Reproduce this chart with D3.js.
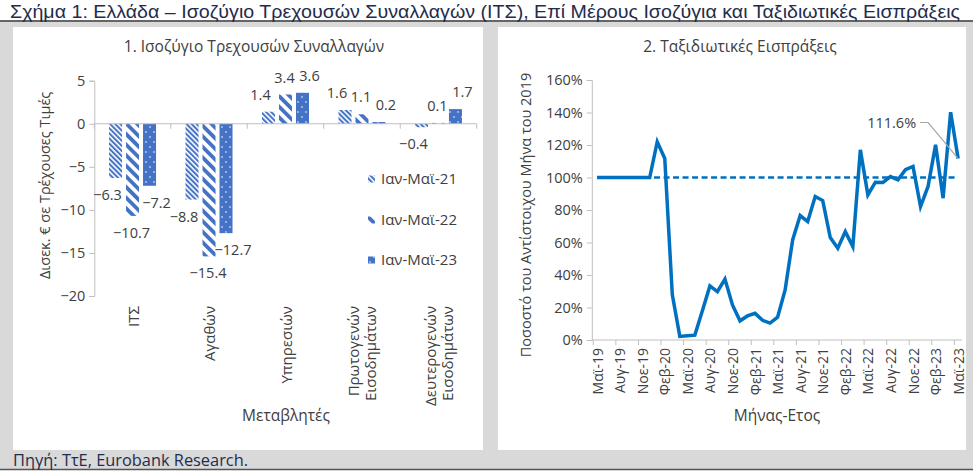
<!DOCTYPE html>
<html><head><meta charset="utf-8">
<script src="https://cdn.jsdelivr.net/npm/d3@7"></script>
<style>
body{margin:0;padding:0;background:#fff;}
svg text{font-family:"Open Sans","Noto Sans",sans-serif;}
</style></head>
<body><svg id="c" width="973" height="471"></svg>
<script>
// ---------- DATA ----------
const categories = ["ΙΤΣ","Αγαθών","Υπηρεσιών","Πρωτογενών Εισοδημάτων","Δευτερογενών Εισοδημάτων"];
const seriesNames = ["Ιαν-Μαϊ-21","Ιαν-Μαϊ-22","Ιαν-Μαϊ-23"];
const values21 = [-6.3,-8.8,1.4,1.6,-0.4];
const values22 = [-10.7,-15.4,3.4,1.1,0.1];
const values23 = [-7.2,-12.7,3.6,0.2,1.7];
const leftTicks = [5,0,-5,-10,-15,-20];

const months = ["Μαϊ-19","Ιουν-19","Ιουλ-19","Αυγ-19","Σεπ-19","Οκτ-19","Νοε-19","Δεκ-19",
"Ιαν-20","Φεβ-20","Μαρ-20","Απρ-20","Μαϊ-20","Ιουν-20","Ιουλ-20","Αυγ-20","Σεπ-20","Οκτ-20","Νοε-20","Δεκ-20",
"Ιαν-21","Φεβ-21","Μαρ-21","Απρ-21","Μαϊ-21","Ιουν-21","Ιουλ-21","Αυγ-21","Σεπ-21","Οκτ-21","Νοε-21","Δεκ-21",
"Ιαν-22","Φεβ-22","Μαρ-22","Απρ-22","Μαϊ-22","Ιουν-22","Ιουλ-22","Αυγ-22","Σεπ-22","Οκτ-22","Νοε-22","Δεκ-22",
"Ιαν-23","Φεβ-23","Μαρ-23","Απρ-23","Μαϊ-23"];
const receipts = [100,100,100,100,100,100,100,100,
122,111.7,28,2.2,2.6,3.0,18,33.3,29.8,37.5,21.6,11.8,
14.8,16.4,12.1,10.4,14.0,30.8,61.6,76.6,72.9,88.3,85.8,63,
56.5,66.7,57.5,117,89.3,97.1,97,100.6,98.6,104.8,106.8,82.1,
94.5,120.1,87.3,140.2,111.6];
const baseline = 100;
const rightTicks = [0,20,40,60,80,100,120,140,160];
const monthTickLabels = ["Μαϊ-19","Αυγ-19","Νοε-19","Φεβ-20","Μαϊ-20","Αυγ-20","Νοε-20","Φεβ-21","Μαϊ-21","Αυγ-21","Νοε-21","Φεβ-22","Μαϊ-22","Αυγ-22","Νοε-22","Φεβ-23","Μαϊ-23"];
const lastLabel = "111.6%";

// ---------- STYLE ----------
const BLUE = "#4472C4", LINE = "#0070C0", AXIS = "#BFBFBF", TXT = "#404040", NAVY = "#1F2D4D";
const FONT = '"Open Sans","Noto Sans",sans-serif';
const svg = d3.select("#c");

// patterns
const defs = svg.append("defs");
const p1 = defs.append("pattern").attr("id","pat0").attr("patternUnits","userSpaceOnUse")
  .attr("width",3.6).attr("height",3.6).attr("patternTransform","rotate(-45)");
p1.append("rect").attr("width",3.6).attr("height",3.6).attr("fill","#fff");
p1.append("rect").attr("width",2).attr("height",3.6).attr("fill",BLUE);
const p2 = defs.append("pattern").attr("id","pat1").attr("patternUnits","userSpaceOnUse")
  .attr("width",7.5).attr("height",7.5).attr("patternTransform","rotate(-45)");
p2.append("rect").attr("width",7.5).attr("height",7.5).attr("fill","#fff");
p2.append("rect").attr("width",3.8).attr("height",7.5).attr("fill",BLUE);
const p3 = defs.append("pattern").attr("id","pat2").attr("patternUnits","userSpaceOnUse")
  .attr("width",8).attr("height",10);
p3.append("rect").attr("width",8).attr("height",10).attr("fill",BLUE);
p3.append("circle").attr("cx",2).attr("cy",2).attr("r",0.8).attr("fill","#fff");
p3.append("circle").attr("cx",6).attr("cy",7).attr("r",0.8).attr("fill","#fff");

// backgrounds
svg.append("rect").attr("x",0).attr("y",0).attr("width",973).attr("height",471).attr("fill","#fff");
svg.append("rect").attr("x",0).attr("y",22).attr("width",973).attr("height",447).attr("fill","#D9D9D9");
svg.append("line").attr("x1",0).attr("x2",973).attr("y1",21).attr("y2",21).attr("stroke","#333").attr("stroke-width",1.5);
svg.append("line").attr("x1",0).attr("x2",973).attr("y1",469.5).attr("y2",469.5).attr("stroke","#555").attr("stroke-width",1.5);
svg.append("rect").attr("x",13).attr("y",27).attr("width",470).attr("height",423).attr("fill","#fff");
svg.append("rect").attr("x",498).attr("y",27).attr("width",468).attr("height",423).attr("fill","#fff");

svg.append("text").attr("x",10).attr("y",17.5).attr("font-size",18.5).attr("fill",NAVY)
  .style("font-family",'"Liberation Sans Narrow","Liberation Sans",Arial,sans-serif')
  .attr("textLength",950).attr("lengthAdjust","spacingAndGlyphs")
  .text("Σχήμα 1: Ελλάδα – Ισοζύγιο Τρεχουσών Συναλλαγών (ΙΤΣ), Επί Μέρους Ισοζύγια και Ταξιδιωτικές Εισπράξεις");
svg.append("text").attr("x",13).attr("y",466).attr("font-size",16).attr("fill",NAVY)
  .attr("textLength",235).attr("lengthAdjust","spacingAndGlyphs")
  .text("Πηγή: ΤτΕ, Eurobank Research.");

// ---------- LEFT CHART ----------
const L = {x0:94.3, x1:476.7};
const yL = d3.scaleLinear().domain([-20,5]).range([296,80.7]);
const xL = d3.scaleBand().domain(categories).range([L.x0,L.x1]);
const xS = d3.scaleBand().domain(seriesNames).range([0,xL.bandwidth()]).paddingInner(0.235).paddingOuter(0.868);
const gl = svg.append("g");

gl.append("text").attr("x",254).attr("y",52).attr("text-anchor","middle").attr("font-size",15.5).attr("fill",TXT)
  .text("1. Ισοζύγιο Τρεχουσών Συναλλαγών");

// y axis
const yAxisL = d3.axisLeft(yL).tickValues(leftTicks).tickSize(5).tickPadding(4).tickFormat(d3.format("d"));
const gya = gl.append("g").attr("transform",`translate(${L.x0},0)`).call(yAxisL);
gya.select(".domain").attr("stroke",AXIS);
gya.selectAll(".tick line").attr("stroke",AXIS);
gya.selectAll(".tick text").attr("font-size",14.5).attr("fill",TXT).style("font-family",FONT);

gl.append("text").attr("transform",`translate(50,${(80.7+296)/2 - 3}) rotate(-90)`).attr("text-anchor","middle")
  .attr("font-size",14.5).attr("fill",TXT).text("Δισεκ. € σε Τρέχουσες Τιμές");

const seriesVals = [values21, values22, values23];
const labelDx = [-8, -1, 7];
seriesNames.forEach((s,si)=>{
  const g = gl.append("g");
  g.selectAll("rect").data(categories.map((c,ci)=>({c, v:seriesVals[si][ci]}))).join("rect")
    .attr("x",d=>xL(d.c)+xS(s)).attr("width",xS.bandwidth())
    .attr("y",d=>yL(Math.max(0,d.v))).attr("height",d=>Math.abs(yL(d.v)-yL(0)))
    .attr("fill",`url(#pat${si})`);
  g.selectAll("text").data(categories.map((c,ci)=>({c, v:seriesVals[si][ci]}))).join("text")
    .attr("x",d=>xL(d.c)+xS(s)+xS.bandwidth()/2+labelDx[si])
    .attr("y",d=> d.v>=0 ? yL(d.v)-17 : yL(d.v)+17)
    .attr("dy","0.35em").attr("text-anchor","middle").attr("font-size",14.5).attr("fill",TXT)
    .text(d=>d3.format(".1f")(d.v));
});

// zero axis
const gxa = gl.append("g").attr("transform",`translate(0,${yL(0)})`);
gxa.append("line").attr("x1",L.x0).attr("x2",L.x1).attr("stroke",AXIS);
gxa.selectAll("line.t").data(categories.concat(["end"])).join("line").attr("class","t")
  .attr("x1",(d,i)=>L.x0+i*xL.step()).attr("x2",(d,i)=>L.x0+i*xL.step()).attr("y1",0).attr("y2",5).attr("stroke",AXIS);

// category labels
categories.forEach(c=>{
  const lines = c.split(" ");
  const cx = xL(c)+xL.bandwidth()/2;
  lines.forEach((ln,li)=>{
    const x = cx + (li-(lines.length-1)/2)*17;
    gl.append("text").attr("transform",`translate(${x},306) rotate(-90)`).attr("text-anchor","end")
      .attr("dominant-baseline","central").attr("font-size",15).attr("fill",TXT).text(ln);
  });
});
gl.append("text").attr("x",286).attr("y",421).attr("text-anchor","middle").attr("font-size",15.5).attr("fill",TXT).text("Μεταβλητές");

// legend
const legY = [179,220,260];
seriesNames.forEach((s,si)=>{
  gl.append("rect").attr("x",368).attr("y",legY[si]-3.5).attr("width",7).attr("height",7).attr("fill",`url(#pat${si})`);
  gl.append("text").attr("x",381).attr("y",legY[si]).attr("dy","0.35em").attr("font-size",15).attr("fill",TXT).text(s);
});

// ---------- RIGHT CHART ----------
const R = {x0:593.3, x1:961.9};
const yR = d3.scaleLinear().domain([0,160]).range([340,80]);
const xR = d3.scaleBand().domain(months).range([R.x0,R.x1]);
const gr = svg.append("g");
gr.append("text").attr("x",740).attr("y",52).attr("text-anchor","middle").attr("font-size",15.5).attr("fill",TXT)
  .text("2. Ταξιδιωτικές Εισπράξεις");

const yAxisR = d3.axisLeft(yR).tickValues(rightTicks).tickSize(5).tickPadding(4).tickFormat(d=>d+"%");
const gyr = gr.append("g").attr("transform",`translate(${R.x0 - 1.5},0)`).call(yAxisR);
gyr.select(".domain").attr("stroke",AXIS);
gyr.selectAll(".tick line").attr("stroke",AXIS);
gyr.selectAll(".tick text").attr("font-size",14.5).attr("fill",TXT).style("font-family",FONT);

gr.append("text").attr("transform",`translate(531,${(80+340)/2 + 5}) rotate(-90)`).attr("text-anchor","middle")
  .attr("font-size",14.5).attr("fill",TXT).text("Ποσοστό του Αντίστοιχου Μήνα του 2019");

// x axis
const gxr = gr.append("g").attr("transform",`translate(0,${yR(0)})`);
gxr.append("line").attr("x1",R.x0-1.5).attr("x2",R.x1).attr("stroke",AXIS);
gxr.selectAll("line.t").data(monthTickLabels).join("line").attr("class","t")
  .attr("x1",d=>xR(d)).attr("x2",d=>xR(d)).attr("y1",0).attr("y2",5).attr("stroke",AXIS);
gxr.selectAll("text").data(monthTickLabels).join("text")
  .attr("transform",d=>`translate(${xR(d)+xR.bandwidth()/2},8) rotate(-90)`)
  .attr("text-anchor","end").attr("dominant-baseline","central").attr("font-size",14).attr("fill",TXT).text(d=>d);
gr.append("text").attr("x",777).attr("y",421).attr("text-anchor","middle").attr("font-size",15.5).attr("fill",TXT).text("Μήνας-Ετος");

// baseline dashed
gr.append("line").attr("x1",xR(months[0])+xR.bandwidth()/2).attr("x2",xR(months[months.length-1])+xR.bandwidth()/2)
  .attr("y1",yR(baseline)).attr("y2",yR(baseline)).attr("stroke",LINE).attr("stroke-width",2.5).attr("stroke-dasharray","6,3.5");

const line = d3.line().x((d,i)=>xR(months[i])+xR.bandwidth()/2).y(d=>yR(d));
gr.append("path").datum(receipts).attr("d",line).attr("fill","none").attr("stroke",LINE)
  .attr("stroke-width",3.5).attr("stroke-linejoin","miter");

// annotation of last value
const lx = xR(months[months.length-1])+xR.bandwidth()/2, ly = yR(receipts[receipts.length-1]);
gr.append("path").attr("d",`M${lx},${ly} L${lx-30},${122.5} L${lx-38},${122.5}`).attr("fill","none").attr("stroke","#A6A6A6").attr("stroke-width",1.2);
gr.append("text").attr("x",lx-42).attr("y",122.5).attr("dy","0.35em").attr("text-anchor","end").attr("font-size",14.5).attr("fill",TXT).text(lastLabel);
</script></body></html>
